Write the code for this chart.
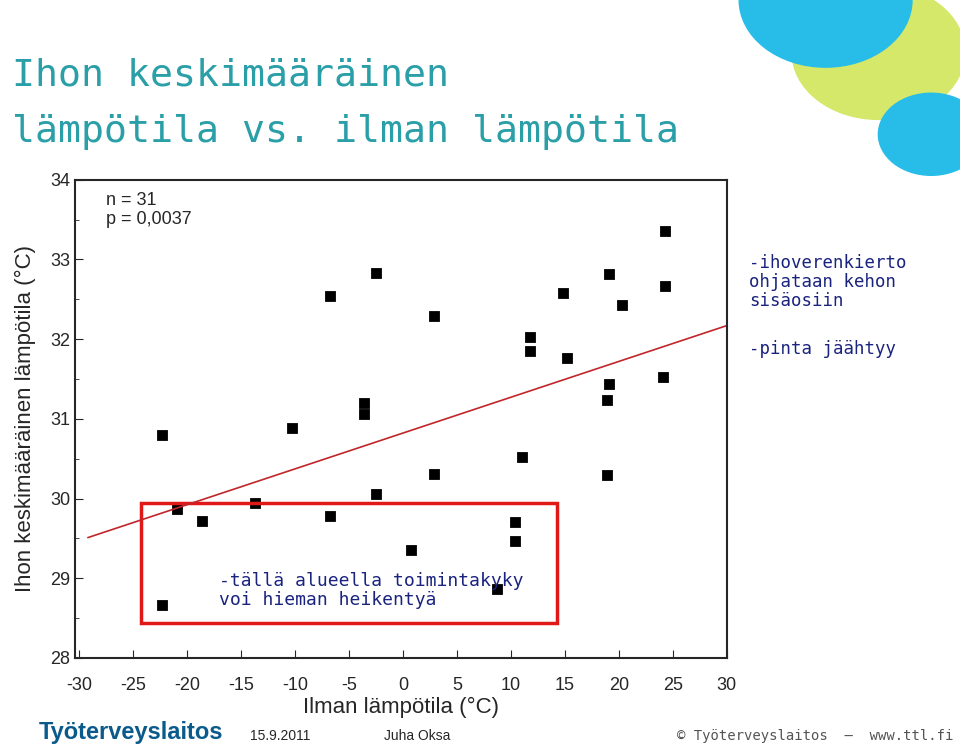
import numpy as np, pandas as pd, seaborn as sns, matplotlib
matplotlib.use("Agg")
import matplotlib.pyplot as plt
from matplotlib.patches import Rectangle, Circle

air = [-22.3,-20.9,-18.6,-22.3,-13.7,-10.3,-6.8,-6.8,-3.6,-3.6,-2.5,-2.5,0.7,2.9,2.9,8.7,10.4,10.4,11.0,11.8,11.8,14.8,15.2,19.1,19.1,18.9,18.9,20.3,24.3,24.3,24.1]
skin = [30.80,29.87,29.72,28.67,29.95,30.88,32.54,29.78,31.20,31.06,32.83,30.06,29.36,32.29,30.31,28.86,29.70,29.47,30.52,32.03,31.85,32.58,31.77,32.82,31.44,31.24,30.29,32.43,33.36,32.67,31.52]
xticks = [-30,-25,-20,-15,-10,-5,0,5,10,15,20,25,30]
yticks = [28,29,30,31,32,33,34]
line_x = [-29.2, 30]
line_y = [29.51, 32.17]

sns.set_style("ticks")
plt.rcParams['font.family'] = ['Liberation Sans', 'DejaVu Sans']
plt.rcParams['axes.unicode_minus'] = False
fig = plt.figure(figsize=(9.6, 7.46), dpi=100)
fig.patches.append(Circle((0.915, 0.93), 0.09, transform=fig.transFigure, color='#d5e86a', zorder=0))
fig.patches.append(Circle((0.86, 1.0), 0.09, transform=fig.transFigure, color='#27bde8', zorder=0))
fig.patches.append(Circle((0.97, 0.82), 0.055, transform=fig.transFigure, color='#27bde8', zorder=0))

ax = fig.add_axes([0.078, 0.118, 0.679, 0.641])
df = pd.DataFrame({"air": air, "skin": skin})
sns.scatterplot(data=df, x="air", y="skin", marker="s", color="black", s=55, edgecolor="black", ax=ax)
ax.plot(line_x, line_y, color="#c0262a", lw=1.2)
ax.add_patch(Rectangle((-24.3, 28.44), 38.6, 1.5, fill=False, ec="#e01818", lw=2.5))
ax.set_xlim(-30.4, 30); ax.set_ylim(28, 34)
ax.set_xticks(xticks); ax.set_yticks(yticks)
ax.set_yticks(np.arange(28.5, 34, 1), minor=True)
ax.tick_params(direction="in", labelsize=13, length=6)
ax.tick_params(which="minor", direction="in", length=3)
ax.tick_params(axis="x", pad=14)
for s in ax.spines.values(): s.set_linewidth(1.5)
ax.set_xlabel("Ilman lämpötila (°C)", fontsize=16, labelpad=2)
ax.set_ylabel("Ihon keskimääräinen lämpötila (°C)", fontsize=16, labelpad=10)
ax.text(-27.5, 33.85, "n = 31\np = 0,0037", fontsize=13, va="top")
ax.text(-17, 28.85, "-tällä alueella toimintakyky\nvoi hieman heikentyä", fontsize=13, color="#1a237e", family="DejaVu Sans Mono", va="center", linespacing=1.1)

fig.text(0.012, 0.885, "Ihon keskimääräinen", fontsize=27.5, color="#2a9fa8", family="DejaVu Sans Mono")
fig.text(0.012, 0.81, "lämpötila vs. ilman lämpötila", fontsize=27.5, color="#2a9fa8", family="DejaVu Sans Mono")
fig.text(0.78, 0.59, "-ihoverenkierto\nohjataan kehon\nsisäosiin", fontsize=12.5, color="#1a237e", family="DejaVu Sans Mono", linespacing=1.05)
fig.text(0.78, 0.525, "-pinta jäähtyy", fontsize=12.5, color="#1a237e", family="DejaVu Sans Mono")
fig.text(0.04, 0.01, "Työterveyslaitos", fontsize=17, color="#0a5a8c", weight="bold")
fig.text(0.26, 0.008, "15.9.2011", fontsize=10)
fig.text(0.40, 0.008, "Juha Oksa", fontsize=10)
fig.text(0.705, 0.008, "© Työterveyslaitos  —  www.ttl.fi", fontsize=10, color="#555555", family="DejaVu Sans Mono")
fig.savefig("out.png", dpi=100)
